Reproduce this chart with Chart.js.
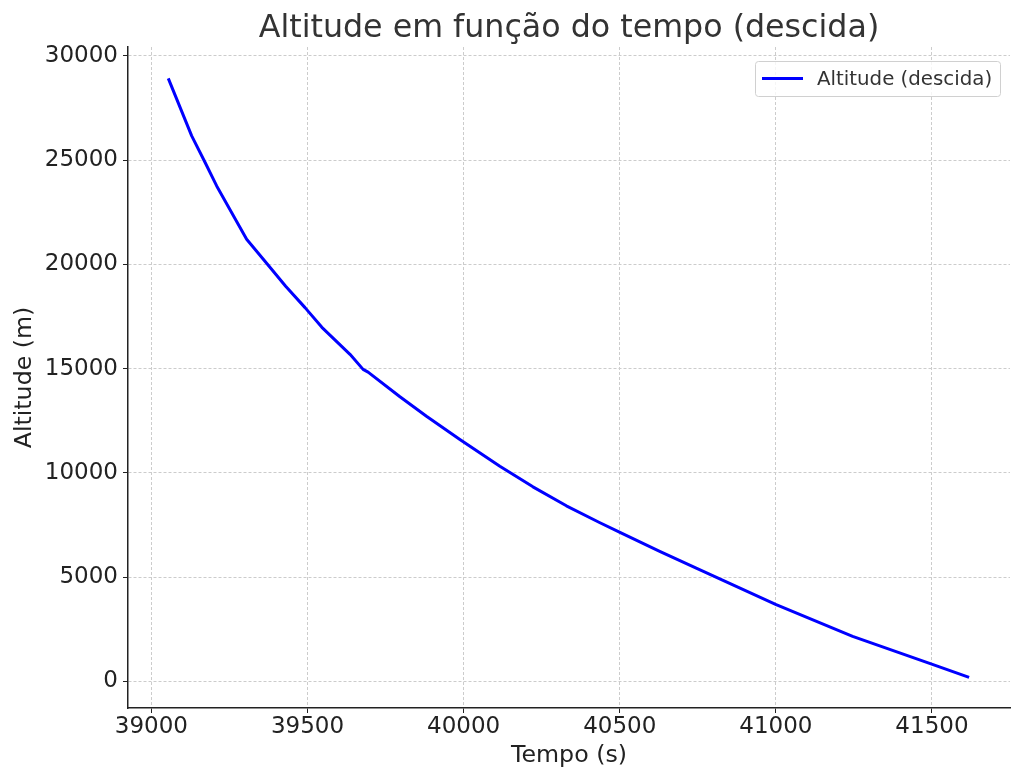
<!DOCTYPE html>
<html>
<head>
<meta charset="utf-8">
<script src="https://cdn.jsdelivr.net/npm/chart.js@4.4.1/dist/chart.umd.min.js"></script>
<style>
  html, body { margin: 0; padding: 0; background: #fff; }
  canvas { display: block; }
</style>
</head>
<body>
<canvas id="myChart" width="1024" height="784"></canvas>
<script>
"use strict";

// valores
var tempo = [39054, 39129, 39172, 39209, 39305, 39369, 39430, 39492, 39546, 39636,
             39678, 39694, 39796, 39881, 39988, 40116, 40222, 40329, 40435, 40499,
             40628, 40745, 41001, 41246, 41497, 41619];
var altitude = [28915, 26160, 24883, 23760, 21202, 20050, 18950, 17923, 16978, 15682,
                14962, 14832, 13650, 12714, 11600, 10320, 9330, 8420, 7620, 7160,
                6240, 5430, 3682, 2160, 840, 190];
var xTicks = [39000, 39500, 40000, 40500, 41000, 41500];
var yTicks = [0, 5000, 10000, 15000, 20000, 25000, 30000];
var titulo = 'Altitude em função do tempo (descida)';

var FONT = "'DejaVu Sans', sans-serif";

var points = tempo.map(function (t, i) {
    return { x: t, y: altitude[i] };
});

// título centrado sobre a área do gráfico + legenda no canto superior direito
var decor = {
    id: 'decor',
    afterDraw: function (chart) {
        var ctx = chart.ctx;
        var area = chart.chartArea;
        var ds = chart.data.datasets[0];
        ctx.save();
        ctx.fillStyle = '#333';
        ctx.font = "31.7px " + FONT;
        ctx.textAlign = 'center';
        ctx.textBaseline = 'middle';
        ctx.fillText(titulo, (area.left + area.right) / 2, 29);

        var x = area.right - 255, y = area.top + 14, w = 245, h = 35;
        ctx.fillStyle = 'rgba(255,255,255,0.8)';
        ctx.strokeStyle = '#d0d0d0';
        ctx.lineWidth = 1;
        ctx.beginPath();
        ctx.roundRect(x + 0.5, y + 0.5, w, h, 3);
        ctx.fill();
        ctx.stroke();
        ctx.strokeStyle = ds.borderColor;
        ctx.lineWidth = 3;
        ctx.beginPath();
        ctx.moveTo(x + 7, y + h / 2);
        ctx.lineTo(x + 48, y + h / 2);
        ctx.stroke();
        ctx.fillStyle = '#333';
        ctx.font = "19.8px " + FONT;
        ctx.textAlign = 'left';
        ctx.fillText(ds.label, x + 62, y + h / 2 + 1);
        ctx.restore();
    }
};

function setTicks(values) {
    return function (scale) {
        scale.ticks = values.map(function (v) { return { value: v }; });
    };
}

var ctx = document.getElementById("myChart");
var myChart = new Chart(ctx, {
    type: 'scatter',
    data: {
        datasets: [{
            label: 'Altitude (descida)',
            data: points,
            showLine: true,
            borderColor: '#0000ff',
            backgroundColor: '#0000ff',
            borderWidth: 3,
            borderJoinStyle: 'round',
            pointRadius: 0,
            tension: 0
        }]
    },
    options: {
        responsive: false,
        animation: { duration: 0 },
        layout: { padding: { left: 0, right: 14, top: 47, bottom: 0 } },
        plugins: {
            legend: { display: false },
            tooltip: { enabled: false },
            title: { display: false }
        },
        scales: {
            x: {
                type: 'linear',
                min: 38925,
                max: 41750,
                afterBuildTicks: setTicks(xTicks),
                afterFit: function (scale) { scale.height = 76; },
                grid: { color: '#cccccc', lineWidth: 1, tickColor: '#222', tickLength: 5 },
                border: { display: true, color: '#222', width: 1.5, dash: [3, 2] },
                ticks: {
                    color: '#222',
                    padding: 0,
                    font: { family: FONT, size: 23 },
                    callback: function (v) { return String(v); }
                },
                title: {
                    display: true,
                    text: 'Tempo (s)',
                    color: '#222',
                    font: { family: FONT, size: 23.7 },
                    padding: { top: 0, bottom: 14 }
                }
            },
            y: {
                type: 'linear',
                min: -1275,
                max: 30420,
                afterBuildTicks: setTicks(yTicks),
                afterFit: function (scale) { scale.width = 128; },
                grid: { color: '#cccccc', lineWidth: 1, tickColor: '#222', tickLength: 5 },
                border: { display: true, color: '#222', width: 1.5, dash: [3, 2] },
                ticks: {
                    color: '#222',
                    padding: 5,
                    font: { family: FONT, size: 23 },
                    callback: function (v) { return String(v); }
                },
                title: {
                    display: true,
                    text: 'Altitude (m)',
                    color: '#222',
                    font: { family: FONT, size: 23.7 },
                    padding: { top: 11, bottom: 0 }
                }
            }
        }
    },
    plugins: [decor]
});
</script>
</body>
</html>
